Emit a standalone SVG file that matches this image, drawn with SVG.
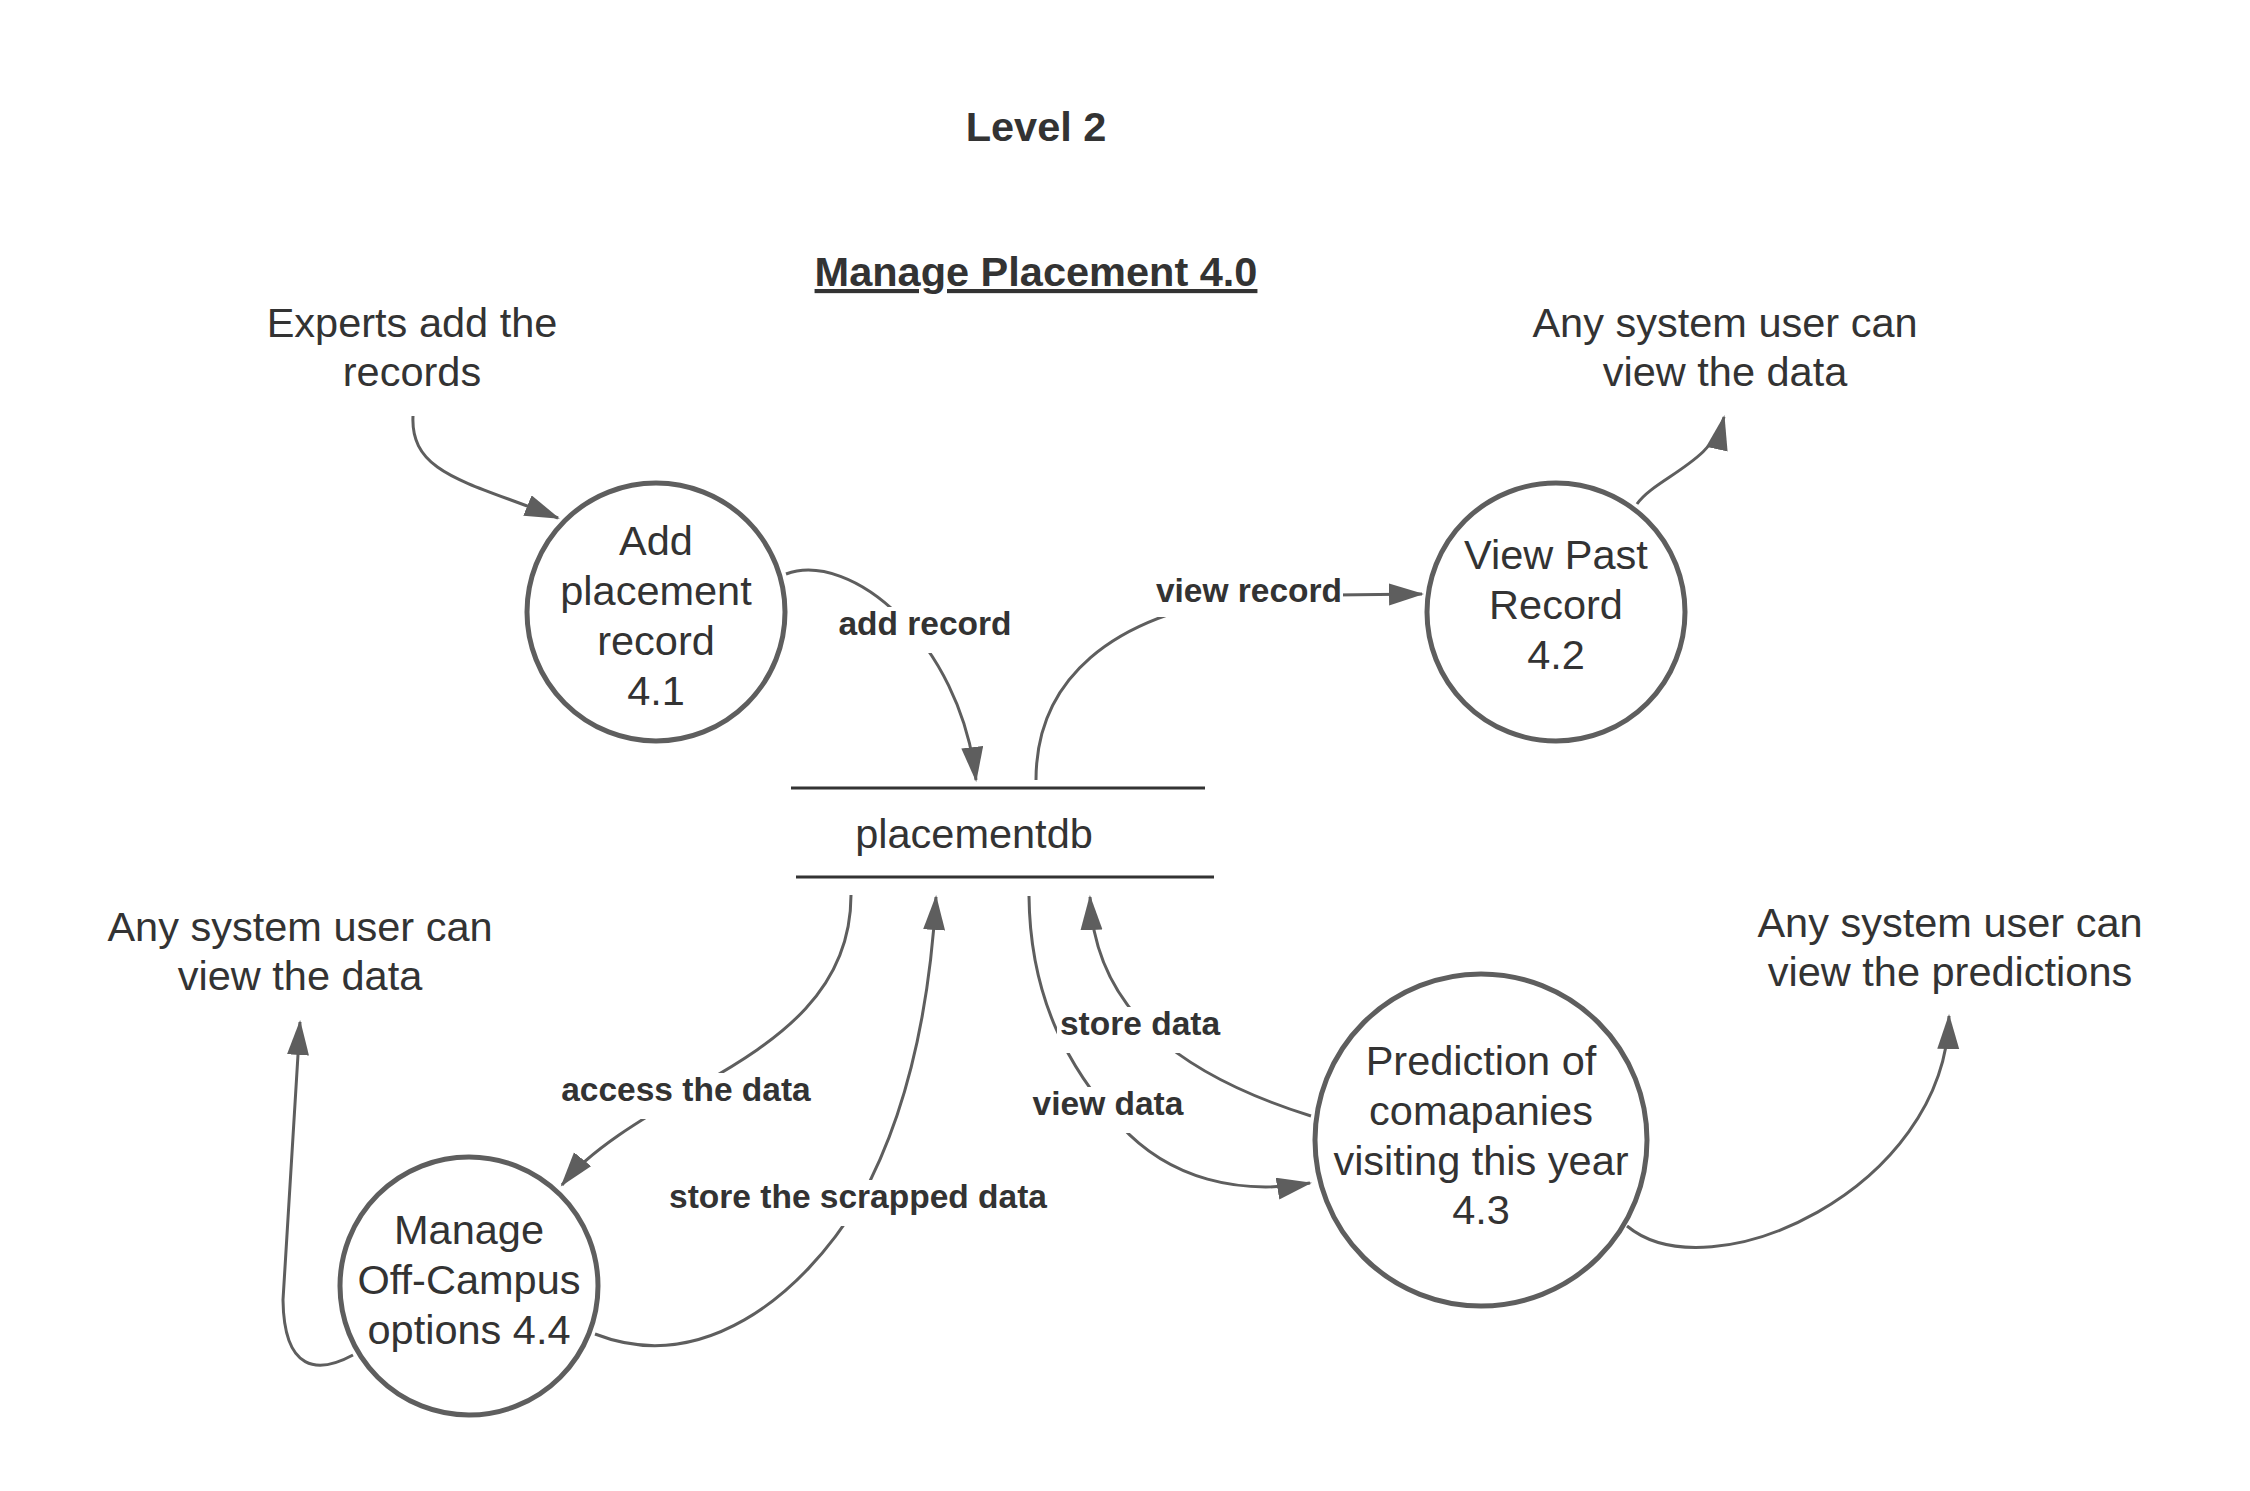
<svg xmlns="http://www.w3.org/2000/svg" width="2250" height="1491" viewBox="0 0 2250 1491">
<defs>
<style>
text{font-family:"Liberation Sans",Arial,sans-serif;fill:#333333;text-anchor:middle}
.t{font-size:41.5px}
.h{font-size:41.5px;font-weight:bold}
.lb{font-size:33.5px;font-weight:bold}
.node{fill:#ffffff;stroke:#5e5e5e;stroke-width:5}
.edge{fill:none;stroke:#5e5e5e;stroke-width:3;marker-end:url(#arr)}
.bg{fill:#ffffff}
.store{stroke:#333333;stroke-width:3}
</style>
<marker id="arr" markerUnits="userSpaceOnUse" markerWidth="36" markerHeight="24" refX="33" refY="11" orient="auto">
<path d="M0,0 L35,11 L0,22 z" fill="#5e5e5e"/>
</marker>
</defs>
<rect width="2250" height="1491" fill="#ffffff"/>

<g id="titles">
<text class="h" x="1036" y="141">Level 2</text>
<text class="h" x="1036" y="286" text-decoration="underline">Manage Placement 4.0</text>
</g>

<g id="connectors">
<path class="edge" d="M413 416 C410 475 470 482 558 518"/>
<path class="edge" d="M786 574 C850 550 960 640 976 780"/>
<path class="edge" d="M1036 780 C1036 680 1110 615 1250 596 L1422 594"/>
<path class="edge" d="M1637 504 C1655 478 1714 462 1724 417"/>
<path class="edge" d="M851 895 C851 990 780 1040 700 1085 C640 1120 590 1150 562 1185"/>
<path class="edge" d="M595 1334 C700 1375 800 1300 860 1200 C910 1110 930 1000 936 897"/>
<path class="edge" d="M1029 896 C1030 1000 1070 1070 1120 1125 C1170 1180 1240 1195 1310 1183"/>
<path class="edge" d="M1311 1116 C1180 1075 1095 1010 1090 897"/>
<path class="edge" d="M1627 1226 C1710 1295 1945 1190 1949 1016"/>
<path class="edge" d="M353 1355 C318 1374 284 1372 283 1300 L300 1022"/>
</g>

<g id="edge-labels">
<rect class="bg" x="836" y="607" width="178" height="46"/>
<text class="lb" x="925" y="635">add record</text>
<rect class="bg" x="1155" y="574" width="188" height="43"/>
<text class="lb" x="1249" y="602">view record</text>
<rect class="bg" x="559" y="1073" width="254" height="46"/>
<text class="lb" x="686" y="1101">access the data</text>
<rect class="bg" x="667" y="1180" width="382" height="46"/>
<text class="lb" x="858" y="1208">store the scrapped data</text>
<rect class="bg" x="1030" y="1087" width="156" height="46"/>
<text class="lb" x="1108" y="1115">view data</text>
<rect class="bg" x="1057" y="1007" width="166" height="46"/>
<text class="lb" x="1140" y="1035">store data</text>
</g>

<g id="node-4-1">
<circle class="node" cx="656" cy="612" r="129"/>
<text class="t" x="656" y="555">Add</text>
<text class="t" x="656" y="605">placement</text>
<text class="t" x="656" y="655">record</text>
<text class="t" x="656" y="705">4.1</text>
</g>

<g id="node-4-2">
<circle class="node" cx="1556" cy="612" r="129"/>
<text class="t" x="1556" y="569">View Past</text>
<text class="t" x="1556" y="619">Record</text>
<text class="t" x="1556" y="669">4.2</text>
</g>

<g id="node-4-3">
<circle class="node" cx="1481" cy="1140" r="166"/>
<text class="t" x="1481" y="1075">Prediction of</text>
<text class="t" x="1481" y="1125">comapanies</text>
<text class="t" x="1481" y="1175">visiting this year</text>
<text class="t" x="1481" y="1224">4.3</text>
</g>

<g id="node-4-4">
<circle class="node" cx="469" cy="1286" r="129"/>
<text class="t" x="469" y="1244">Manage</text>
<text class="t" x="469" y="1294">Off-Campus</text>
<text class="t" x="469" y="1344">options 4.4</text>
</g>

<g id="store-placementdb">
<line class="store" x1="791" y1="788" x2="1205" y2="788"/>
<line class="store" x1="796" y1="877" x2="1214" y2="877"/>
<text class="t" x="974" y="848">placementdb</text>
</g>

<g id="ext-experts">
<text class="t" x="412" y="337">Experts add the</text>
<text class="t" x="412" y="386">records</text>
</g>

<g id="ext-view-top">
<text class="t" x="1725" y="337">Any system user can</text>
<text class="t" x="1725" y="386">view the data</text>
</g>

<g id="ext-view-left">
<text class="t" x="300" y="941">Any system user can</text>
<text class="t" x="300" y="990">view the data</text>
</g>

<g id="ext-view-predictions">
<text class="t" x="1950" y="937">Any system user can</text>
<text class="t" x="1950" y="986">view the predictions</text>
</g>
</svg>
